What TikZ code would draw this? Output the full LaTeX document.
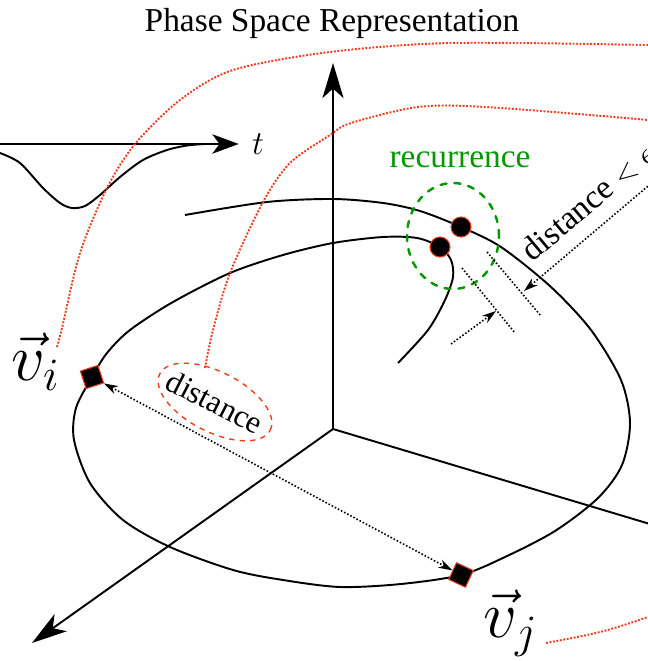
\documentclass[tikz,border=0pt]{standalone}
\usepackage{fontspec}
\setmainfont{Liberation Serif}
\usetikzlibrary{arrows.meta,positioning}
\definecolor{psRed}{HTML}{F23C1E}
\definecolor{psGreen}{HTML}{009A00}
\tikzset{
  >={Stealth[length=8pt,width=5pt,inset=2.5pt]},
  axis/.style={line width=1.1pt, -{Stealth[length=20pt,width=12pt,inset=5.5pt]}},
  taxis/.style={line width=1.1pt, -{Stealth[length=15pt,width=11pt,inset=4pt]}},
  orbit/.style={line width=1.1pt},
  link/.style={draw=psRed, line width=1.1pt, dash pattern=on 1.1pt off 0.9pt},
  gapline/.style={line width=0.9pt, dash pattern=on 0.9pt off 1.1pt},
  vmark/.style={draw=psRed, fill=black, line width=0.6pt, minimum size=10.5pt, inner sep=0pt},
  rdot/.style={circle, draw=psRed, fill=black, line width=0.6pt, minimum size=11.4pt, inner sep=0pt},
  bigtxt/.style={font=\fontsize{19}{22}\selectfont, inner sep=0pt},
  veclbl/.style={font=\huge, scale=1.83, inner sep=0pt},
}
\begin{document}
\begin{tikzpicture}[x=0.2mm,y=-0.2mm]
  \path[use as bounding box, clip] (0,0) rectangle (648,661);
  \node[bigtxt, anchor=base] (title) at (332,32) {Phase Space Representation};

  % time series
  \coordinate (t0) at (-5,144);
  \node[font=\huge, scale=0.92, inner sep=0pt, anchor=base] (tl) at (258,155) {$t$};
  \draw[taxis, shorten >=7.4pt] (t0) -- (t0 -| tl.west);
  \draw[orbit] plot[smooth] coordinates {(0,153) (20,163) (43,188) (60,203) (72,208)
    (85,206) (100,195) (120,177) (143,160) (167,150) (187,145.5) (205,144)};

  % axes
  \coordinate (O) at (333,429);
  \coordinate (zt) at (333,63);
  \coordinate (xt) at (32,643);
  \coordinate (yt) at (700,539);
  \draw[axis] (O) -- (zt);
  \draw[axis] (O) -- (xt);
  \draw[orbit] (O) -- (yt);

  % trajectory
  \draw[orbit] plot[smooth, tension=0.5] coordinates {(185,215) (267,202) (333,199)
    (383,203) (420,211) (461,227) (501,247) (551,287) (591,330) (621,380) (630,423)
    (622,465) (598,498) (555,531) (505,557) (461,575) (401,584) (340,587) (283,580)
    (233,570) (170,547) (123,520) (90,483) (74,440) (76,408) (92,377) (107,353)
    (130,330) (173,302) (230,273) (283,255) (333,243) (383,237) (417,238) (440,247)
    (451,260) (453,277) (445,300) (428,330) (398,363)};

  % red links
  \draw[link] plot[smooth] coordinates {(57,347) (62,328) (80,253) (107,188) (135,144)
    (180,100) (233,70) (330,52) (451,43) (648,45) (700,47)};
  \draw[link] plot[smooth] coordinates {(205,368) (213,330) (230,273) (263,202) (290,163)
    (330,135) (351,123) (418,107) (485,107) (648,120) (700,127)};
  \draw[link] plot[smooth] coordinates {(546,643) (600,632) (648,617) (700,597)};

  % recurrence
  \node[bigtxt, text=psGreen, anchor=base] (rec) at (460,168) {recurrence};
  \coordinate (rc) at (453,236);
  \draw[psGreen, line width=1.4pt, dash pattern=on 3.5pt off 4.5pt, line cap=round]
    (rc) ellipse [x radius=9.2mm, y radius=10.6mm];

  % distance < eps
  \coordinate (g1a) at (487,252); \coordinate (g1b) at (541,316);
  \coordinate (g2a) at (462,268); \coordinate (g2b) at (515,333);
  \draw[gapline] (g1a) -- (g1b);
  \draw[gapline] (g2a) -- (g2b);
  \coordinate (ea) at (451,344); \coordinate (eat) at (496,311);
  \coordinate (eb) at (680,159); \coordinate (ebt) at (524,291);
  \draw[gapline, ->] (ea) -- (eat);
  \draw[gapline, ->] (eb) -- (ebt);
  \node[bigtxt, rotate=40, anchor=base west] (eps) at (532,263) {distance $<\epsilon$};

  % points
  \node[rdot] (pa) at (461,227) {};
  \node[rdot] (pb) at (440,247) {};
  \node[vmark, rotate=18] (vi) at (92,377) {};
  \node[vmark, rotate=-25] (vj) at (461,575) {};
  \node[veclbl, anchor=base west] (vil) at (11,380) {$\vec{v}_i$};
  \node[veclbl, anchor=base west] (vjl) at (483,637) {$\vec{v}_j$};
  \draw[gapline, <->] (vi) -- (vj);

  % distance label
  \node[bigtxt, font=\fontsize{18}{20}\selectfont, rotate=-27] (dl) at (215,402) {distance};
  \draw[psRed, line width=0.8pt, dash pattern=on 3pt off 3pt, rotate around={-27:(dl)}]
    (dl) ellipse [x radius=12.4mm, y radius=6mm];
\end{tikzpicture}
\end{document}
